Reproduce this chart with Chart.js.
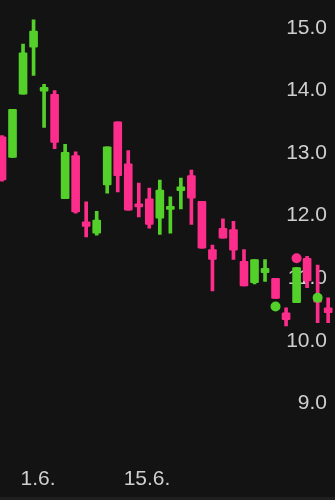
<!DOCTYPE html>
<html>
<head>
<meta charset="utf-8">
<script src="https://cdn.jsdelivr.net/npm/chart.js@4.4.1/dist/chart.umd.min.js"></script>
<style>
  html, body { margin: 0; padding: 0; background: #1f1f1f; }
  #wrap { position: relative; width: 335px; height: 497px; background: #131313; }
</style>
</head>
<body>
<div id="wrap"><canvas id="c"></canvas></div>
<script>
// Daily candles (index = trading day position)
const candleIndex = [0,1,2,3,4,5,6,7,8,9,10,11,12,13,14,15,16,17,18,19,20,21,22,23,24,25,26,27,28,29,30,31];
const openVals  = [13.26,12.93,13.94,14.69,13.99,13.94,12.27,12.96,11.90,11.72,12.49,13.50,12.83,12.19,12.27,11.96,12.10,12.40,12.64,12.23,11.46,11.80,11.78,11.27,10.93,11.09,11.00,10.45,10.61,11.32,10.73,10.53];
const highVals  = [13.28,13.70,14.74,15.13,14.10,14.00,13.14,13.02,12.22,12.07,13.10,13.50,13.04,12.52,12.44,12.57,12.30,12.60,12.73,12.23,11.53,11.95,11.91,11.46,11.30,11.30,11.00,10.53,11.17,11.35,11.21,10.69];
const lowVals   = [12.55,12.93,13.94,14.24,13.41,13.07,12.27,12.04,11.66,11.69,12.36,12.38,12.09,11.98,11.80,11.70,11.72,12.11,11.86,11.48,10.80,11.64,11.30,10.88,10.91,10.95,10.68,10.24,10.61,10.85,10.29,10.29];
const closeVals = [12.57,13.70,14.60,14.95,14.05,13.17,13.01,12.06,11.83,11.93,13.10,12.64,12.09,12.14,11.86,12.41,12.15,12.46,12.28,11.48,11.30,11.64,11.45,10.88,11.30,11.16,10.68,10.34,11.17,10.96,10.62,10.45];

// Signal markers
const signalIndex = [26, 28, 30];
const signalValue = [10.55, 11.32, 10.69];
const signalType  = ['up', 'down', 'up'];

// Axis ticks
const yTicks = [9, 10, 11, 12, 13, 14, 15];
const dateTickPos = [3.42, 13.78];
const dateTickLabels = ['1.6.', '15.6.'];

const UP = '#54d02b';
const DOWN = '#fd2e8b';
const candleColors = candleIndex.map((_, i) => closeVals[i] >= openVals[i] ? UP : DOWN);

const bodies = candleIndex.map((x, i) => ({ x: x, y: [openVals[i], closeVals[i]] }));
const wicks = candleIndex.map((x, i) => ({ x: x, y: [lowVals[i], highVals[i]] }));
const signals = signalIndex.map((x, i) => ({ x: x, y: signalValue[i] }));
const signalColors = signalType.map(t => t === 'up' ? UP : DOWN);

const labelFont = { family: '"Liberation Sans", Arial, sans-serif', size: 21 };

new Chart(document.getElementById('c'), {
  type: 'bar',
  data: {
    datasets: [
      {
        type: 'scatter',
        data: signals,
        order: 0,
        pointRadius: 5,
        pointHoverRadius: 5,
        pointBackgroundColor: signalColors,
        pointBorderWidth: 0,
        showLine: false
      },
      {
        data: bodies,
        order: 1,
        backgroundColor: candleColors,
        borderWidth: 0,
        borderRadius: 1,
        borderSkipped: false,
        barThickness: 8,
        grouped: false
      },
      {
        data: wicks,
        order: 2,
        backgroundColor: candleColors,
        borderWidth: 0,
        borderSkipped: false,
        barThickness: 3,
        grouped: false
      }
    ]
  },
  options: {
    responsive: true,
    maintainAspectRatio: false,
    animation: false,
    layout: { autoPadding: false, padding: { left: 0, right: 0, top: 0, bottom: -5 } },
    plugins: { legend: { display: false }, tooltip: { enabled: false } },
    scales: {
      x: {
        type: 'linear',
        offset: false,
        min: -0.19,
        max: 31.65,
        grid: { display: false, drawTicks: false },
        border: { display: false },
        afterBuildTicks: (scale) => { scale.ticks = dateTickPos.map(v => ({ value: v })); },
        afterFit: (scale) => { scale.paddingLeft = 0; scale.paddingRight = 0; },
        ticks: {
          autoSkip: false,
          maxRotation: 0,
          padding: 10,
          color: '#cfcfcf',
          font: labelFont,
          callback: (v, i) => dateTickLabels[i]
        }
      },
      y: {
        type: 'linear',
        position: 'right',
        min: 8.149,
        max: 15.445,
        z: 1,
        grid: { display: false, drawTicks: false },
        border: { display: false },
        afterBuildTicks: (scale) => { scale.ticks = yTicks.map(v => ({ value: v })); },
        afterFit: (scale) => { scale.width = 0; scale.paddingTop = 0; scale.paddingBottom = 0; },
        ticks: {
          mirror: true,
          padding: -8,
          color: '#cfcfcf',
          font: labelFont,
          callback: (v) => Number(v).toFixed(1)
        }
      }
    }
  }
});
</script>
</body>
</html>
